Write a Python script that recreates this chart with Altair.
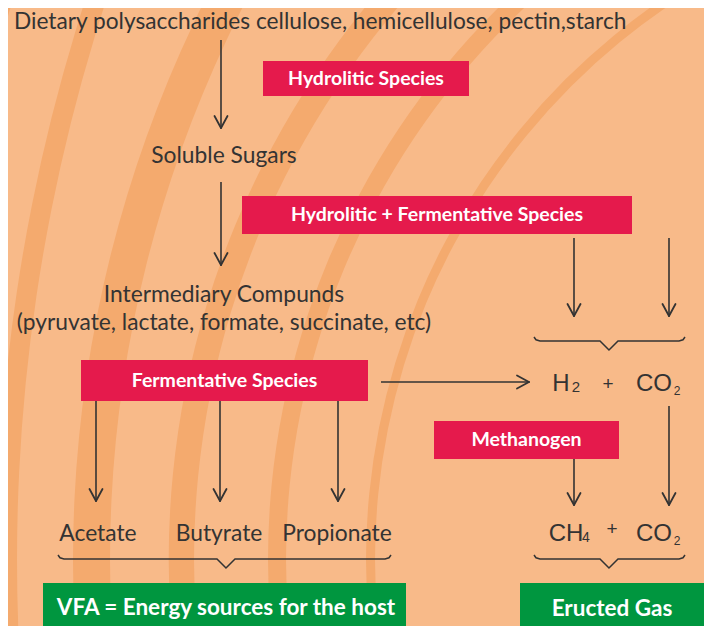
import math
import altair as alt
import pandas as pd

# ---------------- data ----------------
# background rings (reference pixel units)
ring_cx = [1045, 1045, 1045, 1328, 1818, 1818]
ring_cy = [560, 560, 560, 560, 560, 560]
ring_r_in = [670, 759, 851, 1218, 1801, 1890]
ring_r_out = [679, 777, 876, 1255, 1821, 1940]

# arrows: start -> end
arrow_x1 = [221, 221, 574, 669, 381, 96, 220, 338, 574, 669]
arrow_y1 = [40, 182, 238, 238, 382, 401, 401, 401, 459, 406]
arrow_x2 = [221, 221, 574, 669, 529, 96, 220, 338, 574, 669]
arrow_y2 = [128, 265, 316, 316, 382, 501, 501, 501, 505, 505]

# red species boxes
red_labels = ["Hydrolitic Species", "Hydrolitic + Fermentative Species",
              "Fermentative Species", "Methanogen"]
red_x1 = [263, 242, 81, 434]
red_x2 = [469, 632, 368, 619]
red_y1 = [61, 196, 360, 421]
red_y2 = [96, 234, 401, 459]

# green result boxes
green_labels = ["VFA = Energy sources for the host", "Eructed Gas"]
green_x1 = [43, 520]
green_x2 = [406, 706]
green_y1 = [583, 583]
green_y2 = [640, 640]

# braces: left, right, tip x, line y
brace_x0 = [534, 58, 534]
brace_x1 = [685, 391, 685]
brace_xm = [609, 226, 609]
brace_y = [341, 559, 559]

# dark labels
center_labels = ["Soluble Sugars", "Intermediary Compunds",
                 "(pyruvate, lactate, formate, succinate, etc)",
                 "Acetate", "Butyrate", "Propionate"]
center_x = [224, 224, 224, 98, 219, 337]
center_y = [163, 302, 330, 541, 541, 541]
title_label = "Dietary polysaccharides cellulose, hemicellulose, pectin,starch"

# chemistry formula pieces
chem_text = ["H", "2", "+", "CO", "2", "CH", "4", "+", "CO", "2"]
chem_x = [561, 576, 608, 654, 677, 566, 586, 612, 654, 677]
chem_y = [391, 392, 390, 391, 395, 541, 542, 535, 541, 545]
chem_size = [24, 15, 19, 24, 12, 24, 14, 19, 24, 12]

# ---------------- styling ----------------
BG = "#F8BA89"
BAND = "#F4AA6E"
RED = "#E51A4C"
GREEN = "#00963F"
INK = "#333333"
W, H = 696, 618
X0, Y0 = 8, 8

xs = alt.Scale(domain=[X0, X0 + W], nice=False, zero=False)
ys = alt.Scale(domain=[Y0, Y0 + H], nice=False, zero=False, reverse=True)


def X(f):
    return alt.X(f, type="quantitative", scale=xs, axis=None)


def Y(f):
    return alt.Y(f, type="quantitative", scale=ys, axis=None)


rings = pd.DataFrame({"cx": ring_cx, "cy": ring_cy, "r1": ring_r_in, "r2": ring_r_out})
ring_layer = alt.Chart(rings).mark_arc(theta=0, theta2=2 * math.pi, color=BAND, clip=True).encode(
    x=X("cx"), y=Y("cy"),
    radius=alt.Radius("r2:Q", scale=None),
    radius2=alt.Radius2("r1:Q"),
)

arrows = pd.DataFrame({"x1": arrow_x1, "y1": arrow_y1, "x2": arrow_x2, "y2": arrow_y2})
shaft_layer = alt.Chart(arrows).mark_rule(color=INK, strokeWidth=1.6).encode(
    x=X("x1"), y=Y("y1"), x2="x2:Q", y2="y2:Q")

heads = []
for a, b, c, d in zip(arrow_x1, arrow_y1, arrow_x2, arrow_y2):
    L = math.hypot(c - a, d - b)
    ux, uy = (c - a) / L, (d - b) / L
    back, half = 12, 6.5
    for s in (-1, 1):
        heads.append({"x1": c - ux * back - uy * half * s, "y1": d - uy * back + ux * half * s,
                      "x2": c, "y2": d})
head_layer = alt.Chart(pd.DataFrame(heads)).mark_rule(color=INK, strokeWidth=1.8, strokeCap="round").encode(
    x=X("x1"), y=Y("y1"), x2="x2:Q", y2="y2:Q")

braces = []
for i, (x0, x1, xm, yl) in enumerate(zip(brace_x0, brace_x1, brace_xm, brace_y)):
    pts = [(x0, yl - 4), (x0 + 2, yl - 1.2), (x0 + 6, yl), (xm - 9, yl), (xm, yl + 9),
           (xm + 9, yl), (x1 - 6, yl), (x1 - 2, yl - 1.2), (x1, yl - 4)]
    for j, (px, py) in enumerate(pts):
        braces.append({"b": i, "o": j, "x": px, "y": py})
brace_layer = alt.Chart(pd.DataFrame(braces)).mark_line(color=INK, strokeWidth=1.5).encode(
    x=X("x"), y=Y("y"), detail="b:N", order="o:Q")

red = pd.DataFrame({"label": red_labels, "x1": red_x1, "x2": red_x2, "y1": red_y1, "y2": red_y2})
red["cx"] = (red.x1 + red.x2) / 2
red["cy"] = (red.y1 + red.y2) / 2
red_box = alt.Chart(red).mark_rect(color=RED, clip=True).encode(
    x=X("x1"), x2="x2:Q", y=Y("y1"), y2="y2:Q")
red_text = alt.Chart(red).mark_text(font="Lato", fontWeight="bold", fontSize=19.5, color="white",
                                    baseline="middle", align="center").encode(
    x=X("cx"), y=Y("cy"), text="label:N")

green = pd.DataFrame({"label": green_labels, "x1": green_x1, "x2": green_x2,
                      "y1": green_y1, "y2": green_y2})
green["cx"] = [226, 612]
green["cy"] = [608, 609]
green_box = alt.Chart(green).mark_rect(color=GREEN, clip=True).encode(
    x=X("x1"), x2="x2:Q", y=Y("y1"), y2="y2:Q")
green_text = alt.Chart(green).mark_text(font="Lato", fontWeight="bold", fontSize=22.5, color="white",
                                        baseline="middle", align="center").encode(
    x=X("cx"), y=Y("cy"), text="label:N")

labels = pd.DataFrame({"label": center_labels, "x": center_x, "y": center_y})
label_layer = alt.Chart(labels).mark_text(font="Lato", fontSize=22.8, color=INK,
                                          baseline="alphabetic", align="center").encode(
    x=X("x"), y=Y("y"), text="label:N")

title = pd.DataFrame({"label": [title_label], "x": [14], "y": [29]})
title_layer = alt.Chart(title).mark_text(font="Lato", fontSize=22.7, color=INK,
                                         baseline="alphabetic", align="left").encode(
    x=X("x"), y=Y("y"), text="label:N")

chem = pd.DataFrame({"t": chem_text, "x": chem_x, "y": chem_y, "s": chem_size})
chem_layer = alt.Chart(chem).mark_text(font="Liberation Sans", color=INK,
                                       baseline="alphabetic", align="center").encode(
    x=X("x"), y=Y("y"), text="t:N", size=alt.Size("s:Q", scale=None, legend=None))

chart = alt.layer(
    ring_layer, brace_layer, shaft_layer, head_layer, red_box, green_box,
    red_text, green_text, label_layer, title_layer, chem_layer
).properties(
    width=W, height=H, padding=0, background=BG,
    autosize=alt.AutoSizeParams(type="none"),
).configure_view(stroke=None)

chart.save("out.html", embed_options={"renderer": "svg", "actions": False})
